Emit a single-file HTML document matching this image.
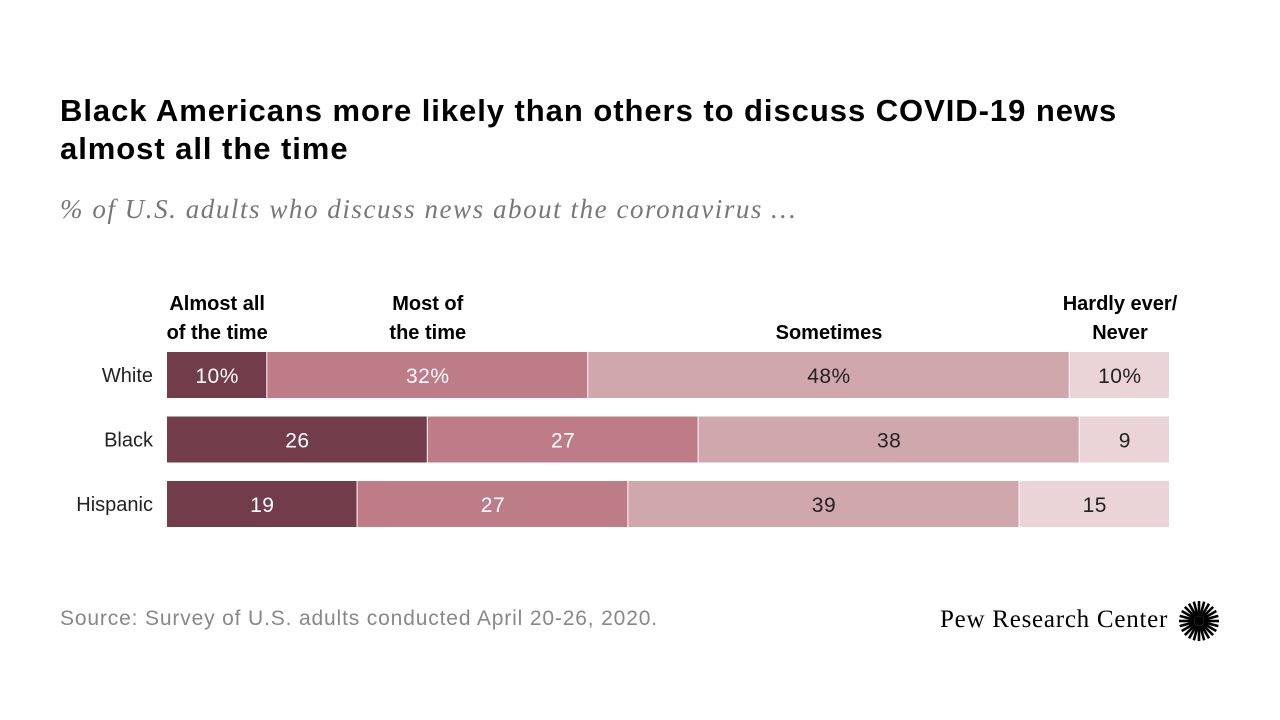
<!DOCTYPE html>
<html><head><meta charset="utf-8"><style>
body{margin:0;width:1280px;height:720px;background:#fff;font-family:"Liberation Sans",sans-serif;position:relative;overflow:hidden}
.t{position:absolute;white-space:nowrap}
</style></head><body>
<div class="t" style="left:60px;top:92px;font-size:31px;font-weight:bold;line-height:38px;color:#000;letter-spacing:0.95px">Black Americans more likely than others to discuss COVID-19 news<br>almost all the time</div>
<div class="t" style="left:60px;top:194px;font-size:27px;font-style:italic;font-family:'Liberation Serif',serif;color:#777;letter-spacing:1.55px">% of U.S. adults who discuss news about the coronavirus …</div>
<svg id="chart" width="1280" height="720" style="position:absolute;left:0;top:0"></svg>
<div class="t" style="left:60px;top:607px;font-size:21px;color:#888;letter-spacing:0.85px">Source: Survey of U.S. adults conducted April 20-26, 2020.</div>
<div class="t" style="left:940px;top:606px;font-size:25px;font-family:'Liberation Serif',serif;color:#000;letter-spacing:0.75px">Pew Research Center</div>
<svg width="42" height="42" style="position:absolute;left:1178px;top:600px" viewBox="-21 -21 42 42">
<g id="rays"></g><circle r="5" fill="#000"/></svg>
<script>
const categories=["White","Black","Hispanic"];
const almostAll=[10,26,19];
const mostOf=[32,27,27];
const sometimes=[48,38,39];
const hardly=[10,9,15];
const labelsFirstRow=["10%","32%","48%","10%"];
const series=[almostAll,mostOf,sometimes,hardly];
const colors=["#723c4a","#be7b88","#d0a7ad","#ead4d7"];
const textColors=["#fff","#fff","#222","#222"];
const headers=[["Almost all","of the time"],["Most of","the time"],["Sometimes"],["Hardly ever/","Never"]];
const NS="http://www.w3.org/2000/svg";
const svg=document.getElementById('chart');
const x0=167,x1=1170,yTop=352,rowStep=64.5,barH=46;
const xs=v=>x0+(x1-x0)*v/100;
function mk(tag,attrs){const e=document.createElementNS(NS,tag);for(const k in attrs)e.setAttribute(k,attrs[k]);svg.appendChild(e);return e;}
categories.forEach((c,i)=>{
  const y=yTop+i*rowStep;
  const lab=mk('text',{x:153,y:y+barH/2+7,'text-anchor':'end','font-size':20,fill:'#222'});
  lab.textContent=c;
  
  
  let cum=0;
  series.forEach((s,j)=>{
    const v=s[i];
    const r=mk('rect',{x:xs(cum),y:y,width:xs(cum+v)-xs(cum)-1,height:barH,fill:colors[j]});
    
    
    const t=mk('text',{x:(xs(cum)+xs(cum+v))/2,y:y+barH/2+8,'text-anchor':'middle','font-size':21,fill:textColors[j],'letter-spacing':'0.5'});
    t.textContent=i===0?labelsFirstRow[j]:String(v);
    
    
    if(i===0){
      const hx=j===3?1120:(xs(cum)+xs(cum+v))/2;
      const hd=headers[j];
      hd.forEach((line,k)=>{
        const h=mk('text',{x:hx,y:339-(hd.length-1-k)*29,'text-anchor':'middle','font-size':20,'font-weight':'bold',fill:'#000'});
        h.textContent=line;
        
        
      });
    }
    cum+=v;
  });
});
const g=document.getElementById('rays');
for(let a=0;a<24;a++){const l=document.createElementNS(NS,'line');const ang=a*Math.PI/12;
l.setAttribute('x1',5*Math.cos(ang));l.setAttribute('y1',5*Math.sin(ang));l.setAttribute('x2',20*Math.cos(ang));l.setAttribute('y2',20*Math.sin(ang));
l.setAttribute('stroke','#000');l.setAttribute('stroke-width','2.6');g.appendChild(l);}
</script>
</body></html>
